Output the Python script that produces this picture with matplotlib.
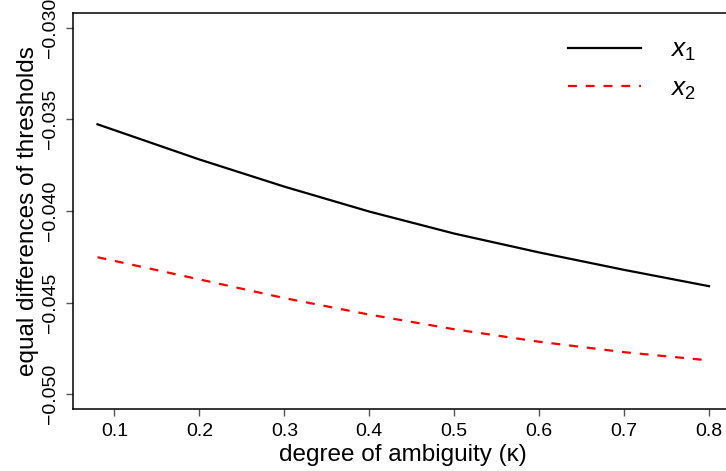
import matplotlib
matplotlib.use("Agg")
import matplotlib.pyplot as plt

plt.rcParams['font.family'] = ['Liberation Sans', 'DejaVu Sans']
plt.rcParams['mathtext.fontset'] = 'custom'
plt.rcParams['mathtext.it'] = 'Liberation Sans:italic'
plt.rcParams['mathtext.rm'] = 'Liberation Sans'

# degree of ambiguity (kappa)
kappa = [0.08, 0.2, 0.3, 0.4, 0.5, 0.6, 0.7, 0.8]
x1 = [-0.03527, -0.03719, -0.03867, -0.04003, -0.04123, -0.04226, -0.04321, -0.04410]
x2 = [-0.04252, -0.04373, -0.04475, -0.04565, -0.04645, -0.04713, -0.04770, -0.04815]

xticks = [0.1, 0.2, 0.3, 0.4, 0.5, 0.6, 0.7, 0.8]
yticks = [-0.050, -0.045, -0.040, -0.035, -0.030]

fig = plt.figure(figsize=(7.26, 4.71), dpi=100)
ax = fig.add_axes([0.1006, 0.1316, 0.9097, 0.8408])

ax.plot(kappa, x1, color='black', lw=1.6, label='$x_1$')
ax.plot(kappa, x2, color='red', lw=1.6, ls=(0, (4, 4)), label='$x_2$')

ax.set_xlim(0.0512, 0.8288)
ax.set_ylim(-0.0508, -0.0292)
ax.set_xticks(xticks)
ax.set_xticklabels(['%.1f' % t for t in xticks])
ax.set_yticks(yticks)
ax.set_yticklabels(['\u2212%.3f' % abs(t) for t in yticks], rotation=90, va='center')

ax.tick_params(direction='out', length=5, width=1, color='#555555', labelsize=14, pad=5)
for s in ax.spines.values():
    s.set_linewidth(1.1)

ax.set_xlabel('degree of ambiguity (\u03ba)', fontsize=17.5, labelpad=3)
ax.set_ylabel('equal differences of thresholds', fontsize=17.5, labelpad=2)

leg = ax.legend(loc='upper left', bbox_to_anchor=(568 / 726, 1 - 38 / 471),
                bbox_transform=fig.transFigure, frameon=False, borderpad=0,
                borderaxespad=0, fontsize=19, handlelength=2.77,
                handletextpad=1.1, labelspacing=0.5)

fig.savefig('out.png', dpi=100)
